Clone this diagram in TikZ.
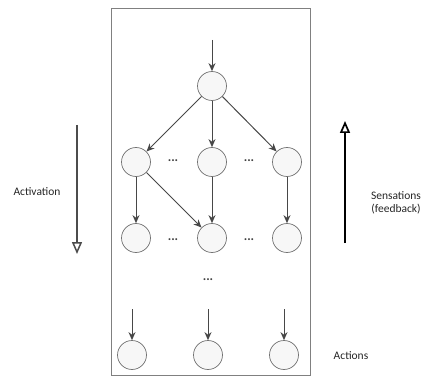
\documentclass[tikz,border=0pt]{standalone}
\usepackage{fontspec}
\setmainfont{Carlito}
\usetikzlibrary{arrows.meta}
\begin{document}
\begin{tikzpicture}[x=1pt,y=-1pt,
  neuron/.style={circle,draw=black!55,fill=black!3,minimum size=29pt,inner sep=0pt,line width=0.7pt},
  conn/.style={draw=black!72,line width=1pt,-{Stealth[length=8pt,width=7pt]}},
  lbl/.style={font=\fontsize{11.5}{13}\selectfont,text=black!85,align=center},
  dotsty/.style={font=\bfseries\fontsize{13}{13}\selectfont,text=black!75}]
\useasboundingbox (0,0) rectangle (426,377);
\draw[black!50,line width=0.7pt] (111,8) rectangle (310,375);
% nodes
\node[neuron] (t) at (212,86) {};
\node[neuron] (a1) at (136,162) {};
\node[neuron] (a2) at (212,162) {};
\node[neuron] (a3) at (287,162) {};
\node[neuron] (b1) at (136,238) {};
\node[neuron] (b2) at (212,238) {};
\node[neuron] (b3) at (287,238) {};
\node[neuron] (c1) at (132,355) {};
\node[neuron] (c2) at (208,355) {};
\node[neuron] (c3) at (284,355) {};
\coordinate (tin) at (212,40);
\coordinate (c1in) at (132,309);
\coordinate (c2in) at (208,309);
\coordinate (c3in) at (284,309);
% dots
\node[dotsty] (d1) at (173,161) {...};
\node[dotsty] (d2) at (249,161) {...};
\node[dotsty] (d3) at (173,240) {...};
\node[dotsty] (d4) at (249,240) {...};
\node[dotsty] (d5) at (208,280) {...};
% connectors
\draw[conn] (tin) -- (t);
\draw[conn] (t) -- (a1);
\draw[conn] (t) -- (a2);
\draw[conn] (t) -- (a3);
\draw[conn] (a1) -- (b1);
\draw[conn] (a1) -- (b2);
\draw[conn] (a2) -- (b2);
\draw[conn] (a3) -- (b3);
\draw[conn] (c1in) -- (c1);
\draw[conn] (c2in) -- (c2);
\draw[conn] (c3in) -- (c3);
% side arrows
\coordinate (acttop) at (77,125);
\coordinate (actbot) at (77,254);
\draw[black!70,line width=1.6pt,-{Triangle[open,length=12pt,width=10pt,line width=1.5pt]}] (acttop) -- (actbot);
\coordinate (senbot) at (345,243);
\coordinate (sentop) at (345,121);
\draw[black,line width=2.4pt,-{Triangle[open,length=12pt,width=10pt,line width=1.7pt]}] (senbot) -- (sentop);
\node[lbl] (act) at (37,192) {Activation};
\node[lbl] (sen) at (396,203) {Sensations\\(feedback)};
\node[lbl] (acts) at (351,356) {Actions};
\end{tikzpicture}
\end{document}
